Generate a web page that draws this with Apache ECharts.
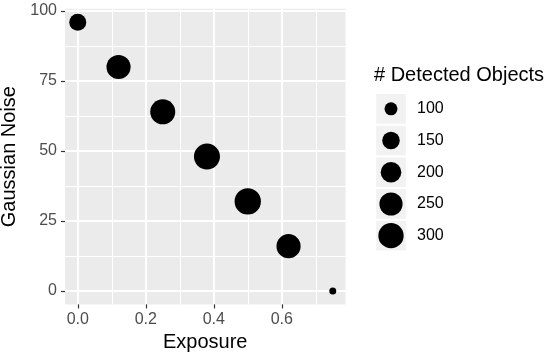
<!DOCTYPE html>
<html>
<head>
<meta charset="utf-8">
<script src="https://cdn.jsdelivr.net/npm/echarts@6/dist/echarts.min.js"></script>
<style>
  html, body { margin: 0; padding: 0; background: #fff; }
  #main { width: 550px; height: 357px; }
</style>
</head>
<body>
<div id="main"></div>
<script>
var exposure = [0, 0.12, 0.25, 0.38, 0.5, 0.62, 0.75];
var gaussianNoise = [96, 80, 64, 48, 32, 16, 0];
var detectedObjects = [143, 272, 295, 318, 325, 272, 76];

var xTicks = [0, 0.2, 0.4, 0.6];
var xMinorTicks = [0.1, 0.3, 0.5, 0.7];
var yTicks = [0, 25, 50, 75, 100];
var yMinorTicks = [12.5, 37.5, 62.5, 87.5];
var legendBreaks = [100, 150, 200, 250, 300];

var FONT = 'Liberation Sans, Arial, Helvetica, sans-serif';

// area scale like ggplot's scale_size (diameter ~ sqrt of value)
var sizeMin = Math.min.apply(null, detectedObjects);
var sizeMax = Math.max.apply(null, detectedObjects);
function pointSize(v) {
  var t = (v - sizeMin) / (sizeMax - sizeMin);
  return 7 + 19.3 * Math.sqrt(Math.max(t, 0));
}

var points = exposure.map(function (x, i) {
  return [x, gaussianNoise[i], detectedObjects[i]];
});

var chart = echarts.init(document.getElementById('main'), null, { renderer: 'canvas' });

var option = {
  animation: false,
  backgroundColor: '#ffffff',
  textStyle: { fontFamily: FONT },
  title: {
    text: '# Detected Objects',
    left: 374,
    top: 65,
    padding: 0,
    textStyle: { fontSize: 20, fontWeight: 'normal', color: '#000', fontFamily: FONT }
  },
  grid: [
    { left: 65, top: 8.8, width: 280.5, height: 295.6, backgroundColor: '#EBEBEB', show: true, borderWidth: 0, outerBoundsMode: 'none', containLabel: false },
    { left: 376, top: 93, width: 30, height: 158.5, outerBoundsMode: 'none', containLabel: false }
  ],
  xAxis: [
    {
      gridIndex: 0,
      type: 'value',
      position: 'bottom',
      min: -0.0375,
      max: 0.7875,
      name: 'Exposure',
      nameLocation: 'middle',
      nameGap: 27,
      nameTextStyle: { fontSize: 20, color: '#000', fontFamily: FONT },
      axisLine: { show: false, onZero: false },
      axisTick: { show: true, length: 4, customValues: xTicks, lineStyle: { color: '#333', width: 1.2 } },
      axisLabel: {
        customValues: xTicks,
        margin: 7,
        fontSize: 16,
        color: '#4D4D4D',
        formatter: function (v) { return v.toFixed(1); }
      },
      splitLine: { show: true, lineStyle: { color: '#fff', width: 2 } }
    },
    {
      gridIndex: 0,
      type: 'value',
      position: 'top',
      min: -0.0375,
      max: 0.7875,
      axisLine: { show: false, onZero: false },
      axisTick: { show: false, customValues: xMinorTicks },
      axisLabel: { show: false, customValues: xMinorTicks },
      splitLine: { show: true, lineStyle: { color: '#fff', width: 1 } }
    },
    {
      gridIndex: 1,
      type: 'value',
      min: 0,
      max: 1,
      show: false
    }
  ],
  yAxis: [
    {
      gridIndex: 0,
      type: 'value',
      position: 'left',
      min: -4.8,
      max: 100.8,
      name: 'Gaussian Noise',
      nameLocation: 'middle',
      nameGap: 33,
      nameTextStyle: { fontSize: 20, color: '#000', fontFamily: FONT },
      axisLine: { show: false, onZero: false },
      axisTick: { show: true, length: 4, customValues: yTicks, lineStyle: { color: '#333', width: 1.2 } },
      axisLabel: { customValues: yTicks, margin: 8, fontSize: 16, color: '#4D4D4D' },
      splitLine: { show: true, lineStyle: { color: '#fff', width: 2 } }
    },
    {
      gridIndex: 0,
      type: 'value',
      position: 'right',
      min: -4.8,
      max: 100.8,
      axisLine: { show: false, onZero: false },
      axisTick: { show: false, customValues: yMinorTicks },
      axisLabel: { show: false, customValues: yMinorTicks },
      splitLine: { show: true, lineStyle: { color: '#fff', width: 1 } }
    },
    {
      gridIndex: 1,
      type: 'category',
      data: legendBreaks.map(String),
      inverse: true,
      position: 'right',
      axisLine: { show: false, onZero: false },
      axisTick: { show: false },
      splitLine: { show: false },
      axisLabel: { margin: 11, fontSize: 16, color: '#000' }
    }
  ],
  series: [
    {
      type: 'scatter',
      xAxisIndex: 0,
      yAxisIndex: 0,
      data: points,
      symbolSize: function (val) { return pointSize(val[2]); },
      itemStyle: { color: '#000', opacity: 1 },
      z: 5
    },
    {
      // legend key backgrounds
      type: 'scatter',
      xAxisIndex: 2,
      yAxisIndex: 2,
      silent: true,
      data: legendBreaks.map(function (b) { return [0.5, String(b)]; }),
      symbol: 'rect',
      symbolSize: [29.6, 29.6],
      itemStyle: { color: '#F2F2F2', opacity: 1 },
      z: 2
    },
    {
      type: 'scatter',
      xAxisIndex: 2,
      yAxisIndex: 2,
      silent: true,
      data: legendBreaks.map(function (b) { return [0.5, String(b), b]; }),
      symbolSize: function (val) { return pointSize(val[2]); },
      itemStyle: { color: '#000', opacity: 1 },
      z: 3
    }
  ]
};

chart.setOption(option);
</script>
</body>
</html>
